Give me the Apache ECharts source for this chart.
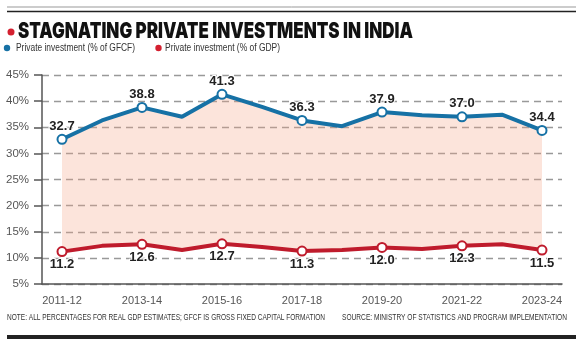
<!DOCTYPE html>
<html><head><meta charset="utf-8">
<script src="https://cdn.jsdelivr.net/npm/echarts@6/dist/echarts.min.js"></script>
<style>html,body{margin:0;padding:0;background:#fff}#c{width:576px;height:348px}</style>
</head><body><div id="c"></div>
<script>
// ---- data ----
const categories = ['2011-12','2012-13','2013-14','2014-15','2015-16','2016-17','2017-18','2018-19','2019-20','2020-21','2021-22','2022-23','2023-24'];
const gfcfShare = [32.7, 36.3, 38.8, 37.0, 41.3, 38.9, 36.3, 35.2, 37.9, 37.3, 37.0, 37.4, 34.4];
const gdpShare  = [11.2, 12.3, 12.6, 11.5, 12.7, 12.1, 11.3, 11.5, 12.0, 11.7, 12.3, 12.6, 11.5];
const yMin = 5, yMax = 45, yStep = 5;
const titleText = 'STAGNATING PRIVATE INVESTMENTS IN INDIA';
const seriesNames = ['Private investment (% of GFCF)', 'Private investment (% of GDP)'];
const noteText = 'NOTE: ALL PERCENTAGES FOR REAL GDP ESTIMATES; GFCF IS GROSS FIXED CAPITAL FORMATION';
const sourceText = 'SOURCE: MINISTRY OF STATISTICS AND PROGRAM IMPLEMENTATION';

// ---- style ----
const BLUE = '#1671a5', RED = '#bf1b2c';
const NARROW = '"Liberation Sans Narrow", "Liberation Sans", Arial, sans-serif';
const mctx = document.createElement('canvas').getContext('2d');
function fitScale(text, font, target) { mctx.font = font; return target / mctx.measureText(text).width; }

const titleFont = '900 22px Inter, Lato, "Liberation Sans", sans-serif';
const smallFont = '9px ' + NARROW;
const legendFont = '11.5px ' + NARROW;

function pointItems(arr) {
  return arr.map((v, i) => ({
    value: v,
    symbol: i % 2 === 0 ? 'emptyCircle' : 'none',
    label: { show: i % 2 === 0 }
  }));
}
const bandDiff = gfcfShare.map((v, i) => +(v - gdpShare[i]).toFixed(2));

const labelStyle = {
  fontFamily: NARROW, fontWeight: 'bold', fontSize: 13, color: '#222',
  textBorderColor: '#fff', textBorderWidth: 2, formatter: p => p.value.toFixed(1)
};

const chart = echarts.init(document.getElementById('c'), null, { renderer: 'canvas' });
chart.setOption({
  animation: false,
  backgroundColor: '#fff',
  grid: { left: 42, top: 75, right: 14, bottom: 64, containLabel: false },
  xAxis: {
    type: 'category', data: categories, boundaryGap: true,
    axisLine: { lineStyle: { color: '#555', width: 1.5 } },
    axisTick: { alignWithLabel: true, interval: 0, length: 7, lineStyle: { color: '#555', width: 1.5 } },
    axisLabel: { interval: 1, color: '#555', fontSize: 11, fontFamily: NARROW, margin: 11 },
    splitLine: { show: false }
  },
  yAxis: {
    type: 'value', min: yMin, max: yMax, interval: yStep,
    axisLine: { show: true, lineStyle: { color: '#555', width: 1.5 } },
    axisTick: { show: true, length: 8, lineStyle: { color: '#555', width: 1.5 } },
    axisLabel: { formatter: '{value}%', color: '#555', fontSize: 11.5, fontFamily: NARROW, margin: 13 },
    splitLine: { show: true, lineStyle: { type: [7, 5], color: '#999', width: 1.3 } }
  },
  series: [
    { name: 'base', type: 'line', stack: 'band', data: gdpShare, symbol: 'none',
      lineStyle: { opacity: 0 }, silent: true, z: 1 },
    { name: 'band', type: 'line', stack: 'band', data: bandDiff, symbol: 'none',
      lineStyle: { opacity: 0 }, areaStyle: { color: 'rgba(244,165,135,0.30)', opacity: 1 }, silent: true, z: 1 },
    { name: seriesNames[0], type: 'line', data: pointItems(gfcfShare), color: BLUE,
      showAllSymbol: true, symbolSize: 9,
      lineStyle: { color: BLUE, width: 4 }, itemStyle: { color: BLUE, borderWidth: 1.5 },
      label: Object.assign({ position: 'top', distance: 1 }, labelStyle), z: 3 },
    { name: seriesNames[1], type: 'line', data: pointItems(gdpShare), color: RED,
      showAllSymbol: true, symbolSize: 9,
      lineStyle: { color: RED, width: 4 }, itemStyle: { color: RED, borderWidth: 1.5 },
      label: Object.assign({ position: 'bottom', distance: 1 }, labelStyle), z: 3 }
  ],
  graphic: [
    { type: 'line', shape: { x1: 7, y1: 7, x2: 576, y2: 7 }, style: { stroke: '#999', lineWidth: 1 } },
    { type: 'line', shape: { x1: 7, y1: 11.5, x2: 576, y2: 11.5 }, style: { stroke: '#222', lineWidth: 1.5 } },
    { type: 'circle', shape: { cx: 11, cy: 32, r: 3.5 }, style: { fill: '#d42030' } },
    { type: 'text', x: 18, y: 31, scaleX: fitScale(titleText, titleFont, 395),
      style: { text: titleText, font: titleFont, fill: '#111', align: 'left', verticalAlign: 'middle' } },
    // legend
    { type: 'circle', shape: { cx: 7, cy: 48, r: 3.2 }, style: { fill: BLUE } },
    { type: 'text', x: 16, y: 48, scaleX: fitScale(seriesNames[0], legendFont, 119),
      style: { text: seriesNames[0], font: legendFont, fill: '#333', align: 'left', verticalAlign: 'middle' } },
    { type: 'circle', shape: { cx: 158.5, cy: 48, r: 3.2 }, style: { fill: '#d42030' } },
    { type: 'text', x: 165, y: 48, scaleX: fitScale(seriesNames[1], legendFont, 115),
      style: { text: seriesNames[1], font: legendFont, fill: '#333', align: 'left', verticalAlign: 'middle' } },
    // footer
    { type: 'text', x: 7, y: 318, scaleX: fitScale(noteText, smallFont, 318),
      style: { text: noteText, font: smallFont, fill: '#333', align: 'left', verticalAlign: 'middle' } },
    { type: 'text', x: 567, y: 318, scaleX: fitScale(sourceText, smallFont, 225),
      style: { text: sourceText, font: smallFont, fill: '#333', align: 'right', verticalAlign: 'middle' } },
    { type: 'rect', shape: { x: 7, y: 335, width: 569, height: 4 }, style: { fill: '#222' } }
  ]
});
</script>
</body></html>
